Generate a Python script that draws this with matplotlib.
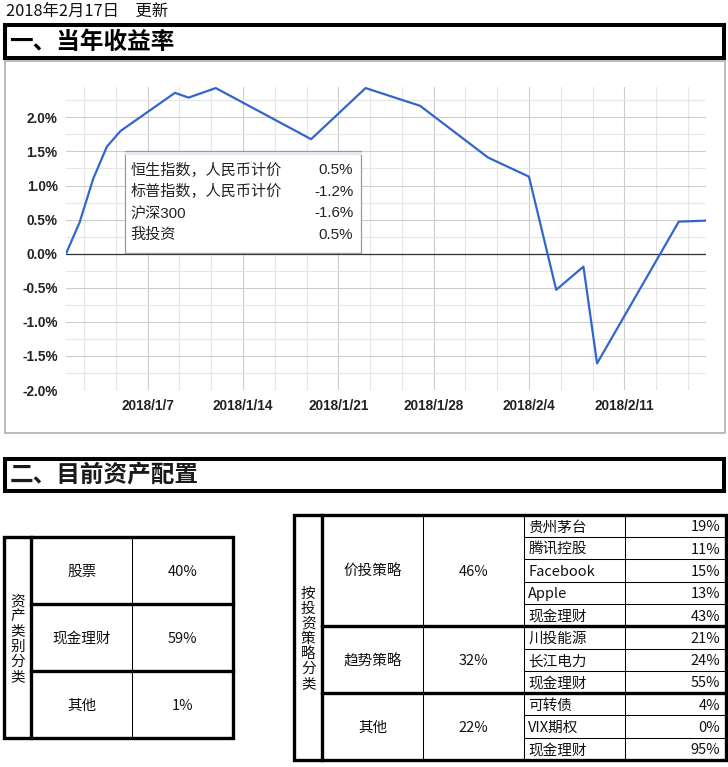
import datetime as dt
import numpy as np
import matplotlib
matplotlib.use("Agg")
import matplotlib.pyplot as plt
import matplotlib.dates as mdates
from matplotlib.patches import Rectangle

plt.rcParams['font.family'] = ['Noto Sans CJK SC', 'DejaVu Sans']

# ---------------- data ----------------
update_text = "2018年2月17日　更新"
section1_title = "一、当年收益率"
section2_title = "二、目前资产配置"

dates = ["2018-01-01", "2018-01-02", "2018-01-03", "2018-01-04", "2018-01-05",
         "2018-01-09", "2018-01-10", "2018-01-12", "2018-01-19", "2018-01-23",
         "2018-01-27", "2018-02-01", "2018-02-04", "2018-02-06", "2018-02-08",
         "2018-02-09", "2018-02-15", "2018-02-17"]
returns = [0.00, 0.46, 1.10, 1.57, 1.80,
           2.36, 2.29, 2.43, 1.68, 2.43,
           2.17, 1.41, 1.13, -0.53, -0.19,
           -1.61, 0.47, 0.485]

legend_names = ["恒生指数，人民币计价", "标普指数，人民币计价", "沪深300", "我投资"]
legend_values = ["0.5%", "-1.2%", "-1.6%", "0.5%"]

asset_label = "资产类别分类"
asset_classes = ["股票", "现金理财", "其他"]
asset_weights = ["40%", "59%", "1%"]

strategy_label = "按投资策略分类"
strategies = ["价投策略", "趋势策略", "其他"]
strategy_weights = ["46%", "32%", "22%"]
strategy_holdings = [["贵州茅台", "腾讯控股", "Facebook", "Apple", "现金理财"],
                     ["川投能源", "长江电力", "现金理财"],
                     ["可转债", "VIX期权", "现金理财"]]
holding_weights = [["19%", "11%", "15%", "13%", "43%"],
                   ["21%", "24%", "55%"],
                   ["4%", "0%", "95%"]]

# ---------------- figure ----------------
W, H = 728, 767
fig = plt.figure(figsize=(W / 100, H / 100), dpi=100)


def px_axes(l, t, r, b, **kw):
    return fig.add_axes([l / W, 1 - b / H, (r - l) / W, (b - t) / H], **kw)


# ---- line chart ----
ax = px_axes(66, 86.7, 706, 390)
xd = [dt.datetime.strptime(d, "%Y-%m-%d") for d in dates]
xn = mdates.date2num(xd)
ax.plot(xn, returns, color='#3366cc', lw=1.6, zorder=3, solid_capstyle='round')
ax.axhline(0, color='#333333', lw=0.9, zorder=2)

x0 = mdates.date2num(dt.datetime(2018, 1, 1))
x1 = mdates.date2num(dt.datetime(2018, 2, 17))
ax.set_xlim(x0, x1)
ax.set_ylim(-2.0, 2.45)

first_sun = mdates.date2num(dt.datetime(2018, 1, 7))
majors = [first_sun + 7 * k for k in range(6)]
maj_labels = []
for m in majors:
    d = mdates.num2date(m)
    maj_labels.append(f"{d.year}/{d.month}/{d.day}")
tick_kw = dict(fontfamily='Liberation Sans', fontweight='bold', fontsize=9.8, color='#222222')
ax.set_xticks(majors, labels=maj_labels, **tick_kw)
minors = []
for m in [first_sun - 7] + majors:
    for f in (7 / 3, 14 / 3):
        v = m + f
        if x0 < v < x1:
            minors.append(v)
ax.set_xticks(minors, minor=True)

yt = np.arange(-2.0, 2.01, 0.5)
ax.set_yticks(yt, labels=[f"{v:.1f}%" for v in yt], **tick_kw)
ax.set_yticks(np.arange(-2.0, 2.45, 0.25), minor=True)

ax.grid(which='major', color='#cccccc', lw=0.8)
ax.grid(which='minor', color='#e6e6e6', lw=0.8)
ax.set_axisbelow(True)
ax.tick_params(which='both', length=0)
ax.tick_params(axis='x', pad=6.3)
ax.tick_params(axis='y', pad=6.0)
for s in ax.spines.values():
    s.set_visible(False)

# ---- overlay in pixel coordinates ----
ov = fig.add_axes([0, 0, 1, 1], zorder=5)
ov.set_xlim(0, W)
ov.set_ylim(H, 0)
ov.axis('off')
ov.patch.set_visible(False)


def hline(xa, xb, y, lw, color='black'):
    ov.plot([xa, xb], [y, y], color=color, lw=lw, solid_capstyle='projecting')


def vline(x, ya, yb, lw, color='black'):
    ov.plot([x, x], [ya, yb], color=color, lw=lw, solid_capstyle='projecting')


THICK = 2.4
THIN = 0.75
TXT = dict(fontsize=10.5, color='#111111', va='center')
DY = 1.5  # small downward nudge for visual centring of CJK text

# header text
ov.text(6, 11, update_text, fontsize=11.8, color='#111111', va='center', ha='left')

# section boxes
ov.add_patch(Rectangle((4.7, 24.7), 719.5, 33.3, fill=False, ec='black', lw=2.9))
ov.text(9, 42, section1_title, fontsize=17, fontweight='bold', va='center', ha='left', color='black')
ov.add_patch(Rectangle((4.7, 458.7), 719.5, 32.6, fill=False, ec='black', lw=2.9))
ov.text(9.5, 475, section2_title, fontsize=17, fontweight='bold', va='center', ha='left', color='#1a1a1a')

# chart border
ov.add_patch(Rectangle((4.5, 60.5), 720.5, 372.5, fill=False, ec='#aaaaaa', lw=1.1))

# legend box
ov.add_patch(Rectangle((125, 151), 235.7, 102.3, fc='white', ec='#999999', lw=0.9))
hline(125.7, 360, 153.3, 2.2, color='#e6eaf0')
for i, (n, v) in enumerate(zip(legend_names, legend_values)):
    yy = 169.3 + i * 21.67 + 0.8
    ov.text(130.7, yy, n, fontsize=10.9, color='#222222', va='center', ha='left',
            family=['Liberation Sans', 'Noto Sans CJK SC'])
    ov.text(353.3, yy, v, fontsize=10.9, color='#222222', va='center', ha='right',
            family=['Liberation Sans', 'Noto Sans CJK SC'])

# ---- left table ----
lx = [4.2, 31, 132.3, 233.3]
ly_top, ly_bot = 536.7, 738.3
nrow = len(asset_classes)
rh = (ly_bot - ly_top) / nrow
ov.add_patch(Rectangle((lx[0], ly_top), lx[3] - lx[0], ly_bot - ly_top, fill=False, ec='black', lw=THICK))
vline(lx[1], ly_top, ly_bot, THICK)
vline(lx[2], ly_top, ly_bot, THIN)
for i in range(1, nrow):
    hline(lx[1], lx[3], ly_top + i * rh, THICK)
for i, (c, w) in enumerate(zip(asset_classes, asset_weights)):
    yy = ly_top + (i + 0.5) * rh + DY
    ov.text((lx[1] + lx[2]) / 2, yy, c, ha='center', **TXT)
    ov.text((lx[2] + lx[3]) / 2, yy, w, ha='center', **TXT)
ov.text((lx[0] + lx[1]) / 2, (ly_top + ly_bot) / 2 + DY, "\n".join(asset_label), ha='center',
        linespacing=1.1, fontsize=10.5, color='#111111', va='center')

# ---- right table ----
rx = [294.3, 322, 423.3, 524.3, 625, 726]
ry_top, ry_bot = 514.7, 760
nsub = sum(len(h) for h in strategy_holdings)
srh = (ry_bot - ry_top) / nsub
ov.add_patch(Rectangle((rx[0], ry_top), rx[5] - rx[0], ry_bot - ry_top, fill=False, ec='black', lw=THICK))
vline(rx[1], ry_top, ry_bot, THICK)
for xx in rx[2:5]:
    vline(xx, ry_top, ry_bot, THIN)
k = 0
for g, (s, sw, hs, hw) in enumerate(zip(strategies, strategy_weights, strategy_holdings, holding_weights)):
    g_top = ry_top + k * srh
    g_bot = g_top + len(hs) * srh
    gc = (g_top + g_bot) / 2 + DY
    ov.text((rx[1] + rx[2]) / 2, gc, s, ha='center', **TXT)
    ov.text((rx[2] + rx[3]) / 2, gc, sw, ha='center', **TXT)
    for j, (h, w) in enumerate(zip(hs, hw)):
        yy = g_top + (j + 0.5) * srh + DY
        ov.text(528.3, yy, h, ha='left', **TXT)
        ov.text(720, yy, w, ha='right', **TXT)
        if j > 0:
            hline(rx[3], rx[5], g_top + j * srh, THIN)
    k += len(hs)
    if g < len(strategies) - 1:
        hline(rx[1], rx[5], g_bot, THICK)
ov.text((rx[0] + rx[1]) / 2, (ry_top + ry_bot) / 2 + DY, "\n".join(strategy_label), ha='center',
        linespacing=1.1, fontsize=10.5, color='#111111', va='center')

fig.savefig("out.png", dpi=100, facecolor='white')
